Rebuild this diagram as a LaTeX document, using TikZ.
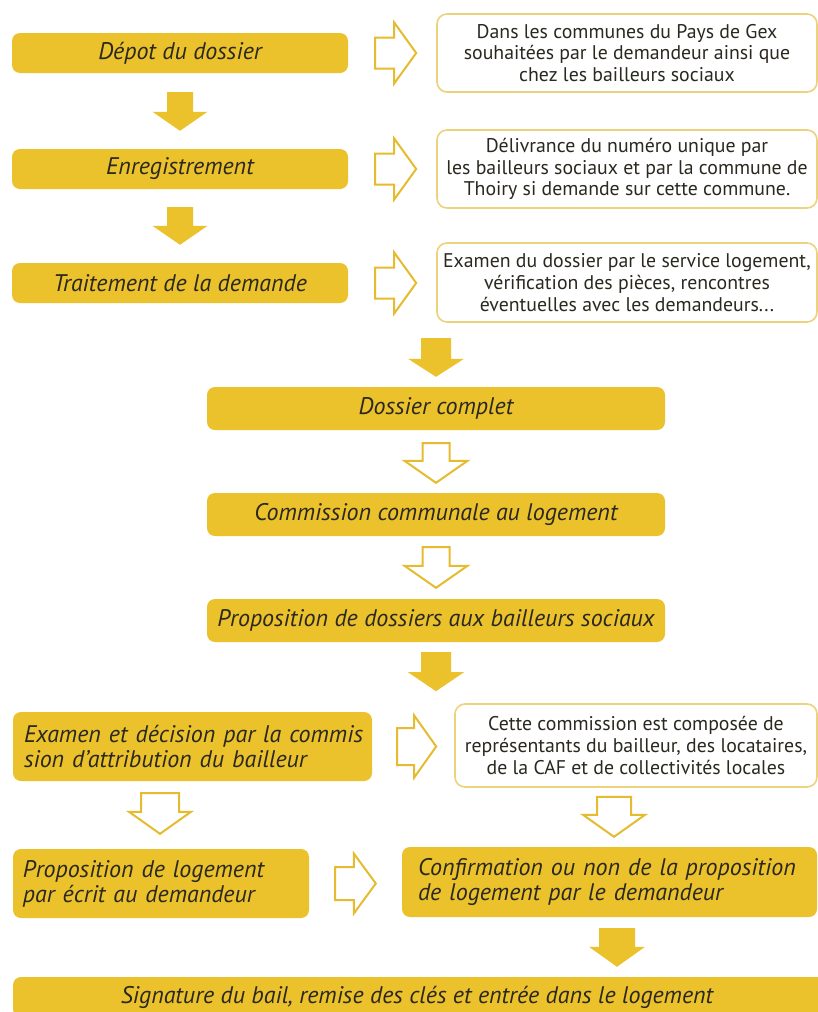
\documentclass[tikz,border=0pt]{standalone}
\usepackage{fontspec}
\setmainfont{PT Sans}
\usetikzlibrary{calc}
\definecolor{gold}{HTML}{EBC12C}
\definecolor{goldline}{HTML}{E6BB30}
\definecolor{paleline}{HTML}{EDD27E}
\definecolor{ink}{HTML}{2A281F}
\tikzset{
  aw/.store in=\arrSW, ahw/.store in=\arrHW, ahl/.store in=\arrHL,
  aw=13pt, ahw=28pt, ahl=19pt,
  downblock/.style={to path={let \p1=(\tikztostart), \p2=(\tikztotarget) in
     (\x1-\arrSW,\y1) -- (\x1-\arrSW,\y2+\arrHL) -- (\x1-\arrHW,\y2+\arrHL) -- (\x1,\y2)
     -- (\x1+\arrHW,\y2+\arrHL) -- (\x1+\arrSW,\y2+\arrHL) -- (\x1+\arrSW,\y1) -- cycle}},
  rightblock/.style={to path={let \p1=(\tikztostart), \p2=(\tikztotarget) in
     (\x1,\y1+\arrSW) -- (\x2-\arrHL,\y1+\arrSW) -- (\x2-\arrHL,\y1+\arrHW) -- (\x2,\y1)
     -- (\x2-\arrHL,\y1-\arrHW) -- (\x2-\arrHL,\y1-\arrSW) -- (\x1,\y1-\arrSW) -- cycle}},
  solidarrow/.style={fill=gold, draw=none},
  openarrow/.style={fill=white, draw=goldline, line width=2pt, line join=miter},
  ybox/.style={fill=gold, rounded corners=8pt, inner sep=0pt, text=ink,
     font=\fontsize{24}{25}\selectfont\itshape},
  wbox/.style={draw=paleline, line width=1.6pt, fill=white, rounded corners=10pt,
     inner sep=0pt, align=center, text=ink, font=\fontsize{19.8}{21.8}\selectfont},
}
\begin{document}
\begin{tikzpicture}[x=1pt,y=-1pt]
\useasboundingbox (0,0) rectangle (818,1012);
\fill[white] (0,0) rectangle (818,1012);

% left column top
\node[ybox, minimum width=336pt, minimum height=40pt] (b1) at (180,53) {Dépot du dossier};
\node[ybox, minimum width=336pt, minimum height=40pt] (b2) at (180,169) {Enregistrement};
\node[ybox, minimum width=336pt, minimum height=40pt] (b3) at (180,283) {Traitement de la demande};

% right column top
\node[wbox, minimum width=380pt, minimum height=78pt] (r1) at (627,53)
  {Dans les communes du Pays de Gex\\souhaitées par le demandeur ainsi que\\chez les bailleurs sociaux};
\node[wbox, minimum width=380pt, minimum height=78pt] (r2) at (627,169)
  {Délivrance du numéro unique par\\les bailleurs sociaux et par la commune de\\Thoiry si demande sur cette commune.};
\node[wbox, minimum width=380pt, minimum height=79pt] (r3) at (627,282.5)
  {Examen du dossier par le service logement,\\vérification des pièces, rencontres\\éventuelles avec les demandeurs...};

% middle column
\node[ybox, minimum width=458pt, minimum height=43pt] (dc) at (436,408.5) {Dossier complet};
\node[ybox, minimum width=458pt, minimum height=43pt] (cc) at (436,514.5) {Commission communale au logement};
\node[ybox, minimum width=458pt, minimum height=43pt] (pd) at (436,620.5) {Proposition de dossiers aux bailleurs sociaux};

% bottom section
\node[ybox, minimum width=359pt, minimum height=69pt, text width=337pt, align=left] (ex) at (192.5,746.5)
  {\mbox{Examen et décision par la commis}\\\mbox{sion d'attribution du bailleur}};
\node[wbox, minimum width=362pt, minimum height=83pt] (r4) at (636,745.5)
  {Cette commission est composée de\\représentants du bailleur, des locataires,\\de la CAF et de collectivités locales};
\node[ybox, minimum width=296pt, minimum height=69pt, text width=276pt, align=left] (pl) at (161,883.5)
  {Proposition de logement\\par écrit au demandeur};
\node[ybox, minimum width=415pt, minimum height=70pt, text width=383pt, align=left] (cf) at (609.5,882)
  {Confirmation ou non de la proposition\\de logement par le demandeur};
\node[ybox, minimum width=816pt, minimum height=40pt] (sg) at (421,997)
  {\hspace*{-8pt}Signature du bail, remise des clés et entrée dans le logement};

% solid down arrows
\draw[solidarrow, downblock, aw=13pt, ahw=27.5pt, ahl=19pt] ([yshift=-19pt]b1.south) to ([yshift=18pt]b2.north);
\draw[solidarrow, downblock, aw=13pt, ahw=27.5pt, ahl=19pt] ([yshift=-18pt]b2.south) to ([yshift=18pt]b3.north);
\draw[solidarrow, downblock, aw=15pt, ahw=28pt, ahl=18pt] ($(b3.south -| dc.north)+(0,35)$) to ($(dc.north)+(0,-10)$);
\draw[solidarrow, downblock, aw=15pt, ahw=28pt, ahl=19pt] ($(pd.south)+(0,10)$) to ($(pd.south |- r4.north)+(0,-12)$);
\draw[solidarrow, downblock, aw=18pt, ahw=28pt, ahl=20pt] ($(cf.south)+(7.5,11)$) to ($(cf.south |- sg.north)+(0,-10)$);

% open down arrows
\draw[openarrow, downblock, aw=13.5pt, ahw=31.5pt, ahl=22pt] ($(dc.south)+(0,13)$) to ($(cc.north)+(0,-10)$);
\draw[openarrow, downblock, aw=13.5pt, ahw=31.5pt, ahl=22pt] ($(cc.south)+(0,11)$) to ($(pd.north)+(0,-11)$);
\draw[openarrow, downblock, aw=19pt, ahw=31pt, ahl=22pt] ($(ex.south)+(-32.5,12)$) to ($(pl.north)+(-1,-15)$);
\draw[openarrow, downblock, aw=17pt, ahw=31pt, ahl=22pt] ($(r4.south)+(-22,9)$) to ($(cf.north)+(4.5,-10)$);

% open right arrows
\draw[openarrow, rightblock, aw=15.5pt, ahw=30.5pt, ahl=22pt] ($(b1.east)+(27,0)$) to ($(r1.west)+(-20,0)$);
\draw[openarrow, rightblock, aw=15.5pt, ahw=30.5pt, ahl=22pt] ($(b2.east)+(27,0)$) to ($(r2.west)+(-20,0)$);
\draw[openarrow, rightblock, aw=15.5pt, ahw=30.5pt, ahl=22pt] ($(b3.east)+(27,0)$) to ($(r3.west)+(-20,0)$);
\draw[openarrow, rightblock, aw=18.5pt, ahw=31pt, ahl=22pt] ($(ex.east)+(25,0)$) to ($(r4.west)+(-18,0)$);
\draw[openarrow, rightblock, aw=16.5pt, ahw=30pt, ahl=22pt] ($(pl.east)+(26,0)$) to ($(cf.west)+(-26,0)$);
\end{tikzpicture}
\end{document}
